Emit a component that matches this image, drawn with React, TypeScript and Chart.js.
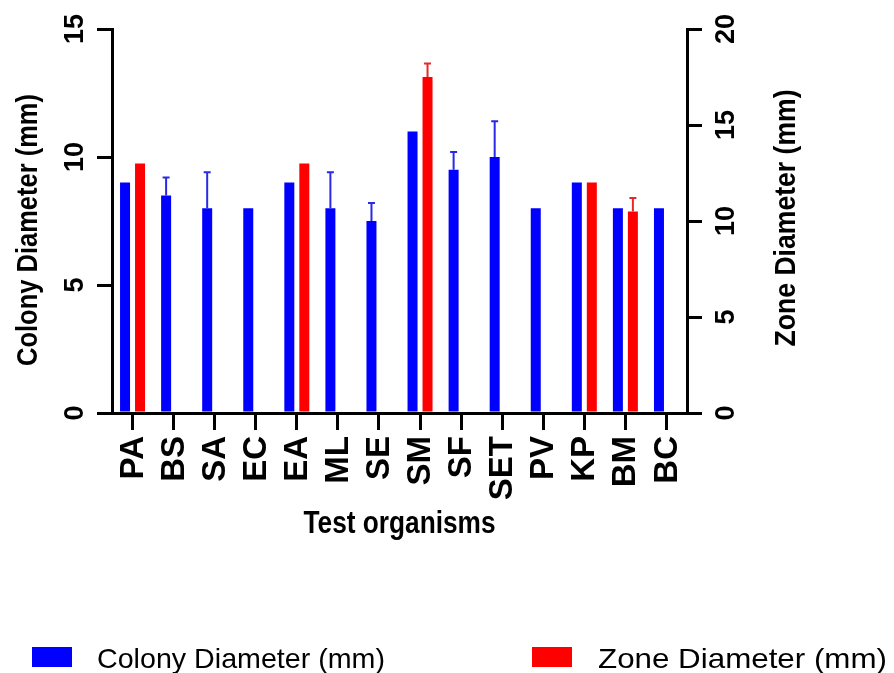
import React, { useEffect, useRef } from "react";
import { Chart, registerables } from "chart.js";

Chart.register(...registerables);

const categories = ["PA", "BS", "SA", "EC", "EA", "ML", "SE", "SM", "SF", "SET", "PV", "KP", "BM", "BC"];
const colonyDiameter = [9, 8.5, 8, 8, 9, 8, 7.5, 11, 9.5, 10, 8, 9, 8, 8];
const colonyError = [0, 0.7, 1.4, 0, 0, 1.4, 0.7, 0, 0.7, 1.4, 0, 0, 0, 0];
const zoneDiameter = [13, null, null, null, 13, null, null, 17.5, null, null, null, 12, 10.5, null];
const zoneError = [0, 0, 0, 0, 0, 0, 0, 0.7, 0, 0, 0, 0, 0.7, 0];
const leftTicks = [0, 5, 10, 15];
const rightTicks = [0, 5, 10, 15, 20];
const xTitle = "Test organisms";
const leftTitle = "Colony Diameter (mm)";
const rightTitle = "Zone Diameter (mm)";

const FONT = '"Liberation Sans", Arial, sans-serif';

function drawText(
  ctx: CanvasRenderingContext2D,
  text: string,
  x: number,
  y: number,
  font: string,
  align: CanvasTextAlign,
  baseline: CanvasTextBaseline,
  rotated: boolean,
  targetLen?: number
) {
  ctx.save();
  ctx.font = font;
  ctx.fillStyle = "#000";
  ctx.textAlign = align;
  ctx.textBaseline = baseline;
  ctx.translate(x, y);
  if (rotated) ctx.rotate(-Math.PI / 2);
  if (targetLen) {
    const w = ctx.measureText(text).width;
    ctx.scale(targetLen / w, 1);
  }
  ctx.fillText(text, 0, 0);
  ctx.restore();
}

const errorBarPlugin = {
  id: "errorBars",
  afterDatasetsDraw(chart: any) {
    const ctx = chart.ctx;
    const errs = [colonyError, zoneError];
    const colors = ["#2a2ae6", "#e62a2a"];
    chart.data.datasets.forEach((ds: any, di: number) => {
      const meta = chart.getDatasetMeta(di);
      const scale = chart.scales[ds.yAxisID];
      meta.data.forEach((el: any, i: number) => {
        const v = ds.data[i];
        const e = errs[di][i];
        if (v == null || !e) return;
        const top = scale.getPixelForValue(v + e);
        ctx.save();
        ctx.strokeStyle = colors[di];
        ctx.lineWidth = 2;
        ctx.beginPath();
        ctx.moveTo(el.x, el.y);
        ctx.lineTo(el.x, top);
        ctx.moveTo(el.x - 3.5, top);
        ctx.lineTo(el.x + 3.5, top);
        ctx.stroke();
        ctx.restore();
      });
    });
  },
};

const labelsPlugin = {
  id: "customLabels",
  afterDraw(chart: any) {
    const ctx = chart.ctx;
    const x = chart.scales.x;
    const y = chart.scales.y;
    const y1 = chart.scales.y1;
    const tickFont = `bold 27px ${FONT}`;
    leftTicks.forEach((t) => {
      drawText(ctx, String(t), 76, y.getPixelForValue(t), tickFont, "center", "middle", true);
    });
    rightTicks.forEach((t) => {
      drawText(ctx, String(t), 727, y1.getPixelForValue(t), tickFont, "center", "middle", true);
    });
    categories.forEach((c, i) => {
      drawText(ctx, c, x.getPixelForValue(i) + 1, 436, `bold 33px ${FONT}`, "right", "middle", true);
    });
    drawText(ctx, leftTitle, 29, 230, `bold 29px ${FONT}`, "center", "middle", true, 272);
    drawText(ctx, rightTitle, 787, 218, `bold 29px ${FONT}`, "center", "middle", true, 257);
    drawText(ctx, xTitle, (chart.chartArea.left + chart.chartArea.right) / 2, 533, `bold 31px ${FONT}`, "center", "alphabetic", false, 192);

    // legend
    const items = [
      { label: chart.data.datasets[0].label, color: chart.data.datasets[0].backgroundColor, bx: 32, tx: 97, tw: 288 },
      { label: chart.data.datasets[1].label, color: chart.data.datasets[1].backgroundColor, bx: 532, tx: 598, tw: 289 },
    ];
    items.forEach((it) => {
      ctx.save();
      ctx.fillStyle = it.color;
      ctx.fillRect(it.bx, 647, 40, 20);
      ctx.restore();
      drawText(ctx, it.label, it.tx, 668, `28px ${FONT}`, "left", "alphabetic", false, it.tw);
    });
  },
};

export default function App() {
  const ref = useRef<HTMLCanvasElement | null>(null);
  useEffect(() => {
    if (!ref.current) return;
    const axisGrid = {
      display: true,
      drawOnChartArea: false,
      drawTicks: true,
      tickLength: 15,
      lineWidth: 3,
      color: "#000",
    };
    const chart = new Chart(ref.current, {
      type: "bar",
      data: {
        labels: categories,
        datasets: [
          {
            label: leftTitle,
            data: colonyDiameter,
            backgroundColor: "#0000ff",
            yAxisID: "y",
            barPercentage: 0.667,
            categoryPercentage: 0.73,
          },
          {
            label: rightTitle,
            data: zoneDiameter as any,
            backgroundColor: "#ff0000",
            yAxisID: "y1",
            barPercentage: 0.667,
            categoryPercentage: 0.73,
          },
        ],
      },
      options: {
        responsive: false,
        animation: false,
        layout: { padding: { top: 29, left: 0, right: 0, bottom: 0 } },
        plugins: { legend: { display: false }, tooltip: { enabled: false } },
        scales: {
          x: {
            offset: true,
            grid: { ...axisGrid, offset: false, tickLength: 17 },
            border: { display: true, color: "#000", width: 3 },
            ticks: { display: false },
            afterFit: (s: any) => {
              s.height = 260;
            },
          },
          y: {
            position: "left",
            min: 0,
            max: 15,
            ticks: { display: false, stepSize: 5 },
            grid: axisGrid,
            border: { display: true, color: "#000", width: 3 },
            afterFit: (s: any) => {
              s.width = 112;
            },
          },
          y1: {
            position: "right",
            min: 0,
            max: 20,
            ticks: { display: false, stepSize: 5 },
            grid: axisGrid,
            border: { display: true, color: "#000", width: 3 },
            afterFit: (s: any) => {
              s.width = 207;
            },
          },
        },
      } as any,
      plugins: [errorBarPlugin, labelsPlugin],
    });
    return () => chart.destroy();
  }, []);
  return (
    <div style={{ position: "fixed", left: 0, top: 0, width: 894, height: 673, background: "#fff" }}>
      <canvas ref={ref} width={894} height={673} style={{ display: "block" }} />
    </div>
  );
}
